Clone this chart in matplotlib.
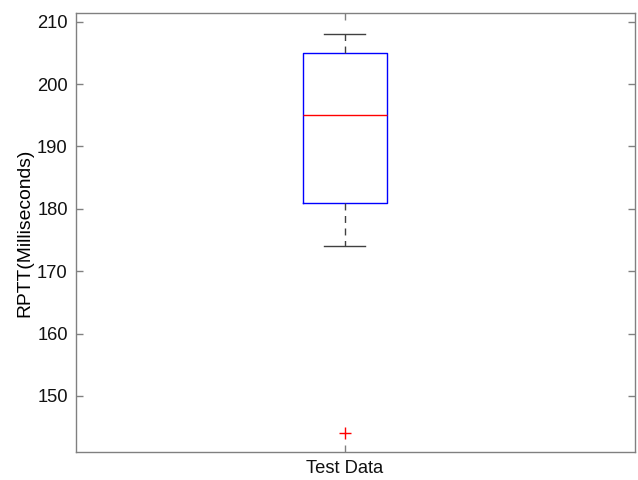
import matplotlib
matplotlib.use("Agg")
import matplotlib.pyplot as plt
import numpy as np

plt.rcParams['font.family'] = ['Liberation Sans', 'DejaVu Sans']

labels = ["Test Data"]
q1 = [181]
med = [195]
q3 = [205]
whislo = [174]
whishi = [208]
fliers = [[144]]
yticks = [150, 160, 170, 180, 190, 200, 210]

stats = [dict(label=labels[i], q1=q1[i], med=med[i], q3=q3[i],
              whislo=whislo[i], whishi=whishi[i], fliers=fliers[i])
         for i in range(len(labels))]

fig = plt.figure(figsize=(6.38, 4.8), dpi=100)
ax = fig.add_axes([76/638, 1-452/480, (635-76)/638, (452-13)/480])

ax.bxp(stats, positions=[1], widths=0.156, capwidths=0.076, showfliers=True,
       boxprops=dict(color='#0000ff', linewidth=1.0),
       medianprops=dict(color='#ff0000', linewidth=1.0),
       whiskerprops=dict(color='#404040', linewidth=1.0, linestyle=(0, (5, 4))),
       capprops=dict(color='#404040', linewidth=1.0),
       flierprops=dict(marker='+', markeredgecolor='#ff0000', markersize=9,
                       markeredgewidth=1.0, linestyle='none'))

ax.set_xlim(0.5, 1.54)
ax.set_ylim(141.0, 211.4)
ax.set_yticks(yticks)
ax.set_xticks([1])
ax.set_xticklabels(labels)
ax.set_ylabel("RPTT(Milliseconds)", fontsize=13.9, color='#000000', labelpad=2.5)

for s in ax.spines.values():
    s.set_color('#808080')
    s.set_linewidth(1.0)
ax.tick_params(direction='in', length=5, width=1.0, color='#808080',
               labelsize=13.2, labelcolor='#111111', top=True, right=True, pad=6)

fig.savefig("out.png", dpi=100)
